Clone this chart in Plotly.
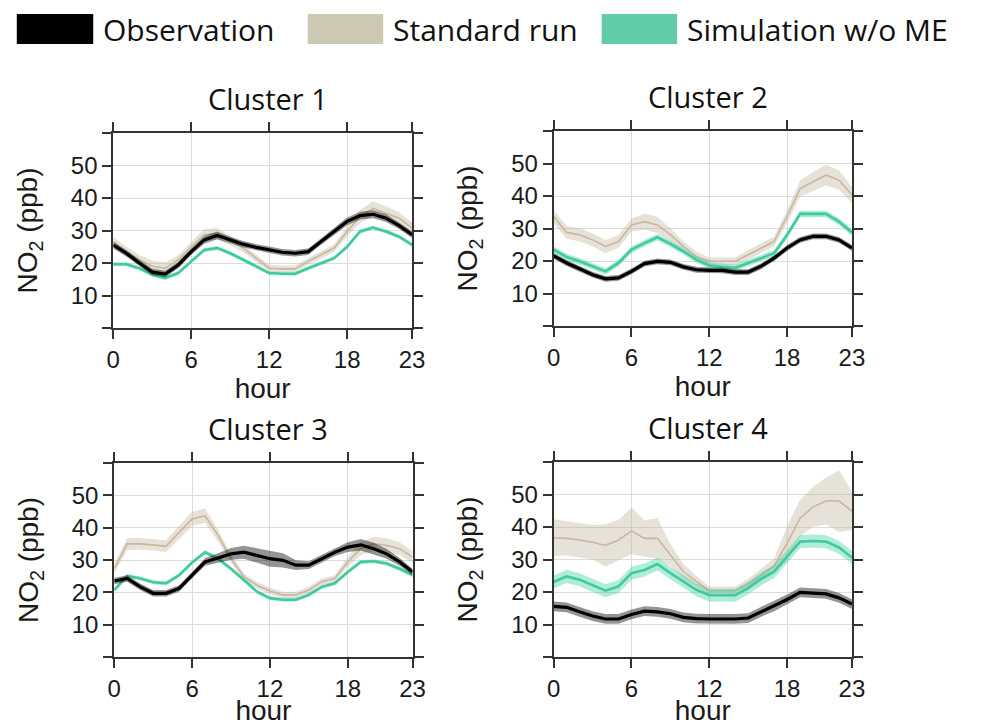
import plotly.graph_objects as go

W, H = 984, 726

hours = list(range(24))
x_tickvals = [0, 6, 12, 18, 23]
y_tickvals = [0, 10, 20, 30, 40, 50, 60]
y_ticktext = ["", "10", "20", "30", "40", "50", ""]

series_names = ["Observation", "Standard run", "Simulation w/o ME"]
cluster_titles = ["Cluster 1", "Cluster 2", "Cluster 3", "Cluster 4"]

# ---- Cluster 1 ----
obs_c1 = [25.5, 23.0, 20.0, 17.2, 16.6, 19.4, 23.5, 27.1, 28.5, 27.1, 25.8, 24.8,
          24.1, 23.3, 23.0, 23.5, 26.6, 29.7, 32.8, 34.6, 35.0, 33.8, 31.5, 28.7]
std_c1 = [26.6, 23.5, 21.0, 19.0, 18.4, 21.0, 25.0, 28.7, 29.0, 27.0, 24.6, 21.5,
          18.4, 18.2, 18.2, 20.5, 22.5, 24.6, 29.7, 34.3, 36.8, 35.3, 33.8, 30.7]
sim_c1 = [19.6, 19.6, 18.4, 16.4, 15.4, 16.9, 20.5, 24.0, 24.6, 23.0, 21.0, 19.0,
          16.9, 16.7, 16.7, 18.4, 20.0, 21.5, 25.0, 29.7, 30.9, 29.7, 28.1, 25.6]
obs_c1_ci = [1.0, 1.0, 1.0, 1.0, 1.0, 1.0, 1.0, 1.2, 1.2, 1.0, 1.0, 1.0,
             1.0, 1.0, 1.0, 1.0, 1.0, 1.0, 1.2, 1.2, 1.2, 1.2, 1.0, 1.0]
std_c1_ci = [1.5, 1.5, 1.5, 1.8, 1.8, 1.5, 1.5, 1.8, 1.8, 1.5, 1.2, 1.2,
             1.0, 1.0, 1.0, 1.0, 1.2, 1.2, 1.5, 2.0, 2.2, 2.2, 1.8, 1.8]
sim_c1_ci = [0.6] * 24

# ---- Cluster 2 ----
obs_c2 = [21.6, 19.4, 17.6, 15.8, 14.5, 14.8, 16.8, 19.2, 19.9, 19.6, 18.2, 17.3,
          17.1, 17.1, 16.6, 16.6, 18.4, 20.9, 24.0, 26.5, 27.6, 27.6, 26.5, 24.0]
std_c2 = [33.7, 28.8, 28.1, 26.5, 24.5, 26.0, 31.1, 32.1, 31.1, 28.1, 24.5, 21.4,
          19.9, 19.9, 19.9, 21.9, 24.0, 26.0, 33.7, 42.3, 44.4, 46.4, 44.9, 40.3]
sim_c2 = [23.5, 21.2, 19.9, 18.4, 16.8, 19.4, 23.5, 25.5, 27.3, 25.3, 23.0, 20.4,
          18.6, 18.2, 17.9, 19.4, 20.9, 22.4, 28.0, 34.5, 34.5, 34.5, 32.1, 28.8]
obs_c2_ci = [0.9] * 24
std_c2_ci = [2.0, 2.0, 2.0, 2.0, 2.0, 2.0, 2.0, 2.5, 2.5, 2.0, 1.5, 1.5,
             1.2, 1.2, 1.2, 1.5, 1.5, 1.5, 2.0, 2.5, 3.0, 3.2, 3.0, 2.5]
sim_c2_ci = [1.0] * 24

# ---- Cluster 3 ----
obs_c3 = [23.5, 24.3, 21.7, 19.7, 19.7, 21.2, 25.3, 29.4, 30.6, 31.9, 32.4, 31.4,
          30.4, 29.9, 28.4, 28.4, 30.4, 32.4, 34.0, 34.7, 33.5, 31.9, 29.4, 26.3]
std_c3 = [27.3, 35.0, 35.0, 34.7, 34.3, 38.6, 42.7, 43.7, 37.6, 30.4, 24.8, 22.2,
          20.4, 19.2, 19.2, 20.7, 23.3, 24.3, 29.4, 33.5, 35.0, 34.5, 33.5, 30.9]
sim_c3 = [20.7, 25.1, 24.3, 23.1, 22.8, 25.3, 29.2, 32.4, 30.4, 27.3, 23.8, 20.2,
          18.2, 17.7, 17.7, 19.2, 21.7, 22.8, 26.3, 29.4, 29.6, 28.9, 27.3, 25.3]
obs_c3_ci = [1.0, 1.0, 1.0, 1.0, 1.0, 1.0, 1.0, 1.2, 1.5, 1.8, 2.0, 2.2,
             2.5, 2.2, 1.5, 1.2, 1.2, 1.2, 1.5, 1.8, 1.8, 1.5, 1.2, 1.0]
std_c3_ci = [1.5, 1.8, 1.8, 1.8, 1.8, 2.0, 2.2, 2.2, 1.8, 1.2, 1.0, 1.0,
             1.0, 1.0, 1.0, 1.0, 1.0, 1.0, 1.5, 2.0, 2.2, 2.2, 2.0, 1.8]
sim_c3_ci = [0.6] * 24

# ---- Cluster 4 ----
obs_c4 = [15.6, 15.3, 13.9, 12.6, 11.7, 11.7, 13.1, 14.1, 13.9, 13.3, 12.2, 11.8,
          11.7, 11.7, 11.7, 12.0, 13.9, 15.6, 17.7, 19.9, 19.7, 19.4, 18.2, 16.3]
std_c4 = [36.7, 36.5, 36.0, 35.3, 34.3, 36.0, 38.8, 36.5, 36.5, 31.4, 26.3, 23.3,
          20.4, 20.4, 20.4, 22.4, 25.3, 28.0, 35.0, 42.7, 46.2, 48.0, 48.0, 44.9]
sim_c4 = [23.1, 24.8, 23.8, 22.0, 20.4, 21.7, 25.8, 26.8, 28.6, 25.8, 23.3, 20.7,
          19.0, 19.0, 19.0, 21.2, 24.1, 26.3, 30.9, 35.5, 35.7, 35.5, 33.7, 30.6]
obs_c4_ci = [1.5] * 24
std_c4_ci = [5.7, 5.3, 5.3, 5.3, 6.5, 6.2, 7.2, 5.6, 6.3, 3.3, 2.3, 1.6,
             1.3, 1.2, 1.3, 1.6, 2.0, 2.3, 5.3, 5.6, 6.1, 7.2, 9.5, 5.9]
sim_c4_ci = [2.0] * 24

clusters = [
    (obs_c1, obs_c1_ci, std_c1, std_c1_ci, sim_c1, sim_c1_ci),
    (obs_c2, obs_c2_ci, std_c2, std_c2_ci, sim_c2, sim_c2_ci),
    (obs_c3, obs_c3_ci, std_c3, std_c3_ci, sim_c3, sim_c3_ci),
    (obs_c4, obs_c4_ci, std_c4, std_c4_ci, sim_c4, sim_c4_ci),
]

# styling
line_colors = {"obs": "#000000", "std": "#c8b6a2", "sim": "#3fcb9c"}
band_colors = {"obs": "rgba(0,0,0,0.42)", "std": "rgba(190,180,150,0.38)",
               "sim": "rgba(60,205,160,0.40)"}
line_widths = {"obs": 3.2, "std": 1.6, "sim": 2.6}
swatch_colors = ["#000000", "#cdc8b2", "#62cba8"]

# panel boxes in pixels: (left, right, top, bottom)
panels = [(108.5, 413.5, 133, 328), (558, 862.5, 131, 326),
          (109.5, 414, 463, 657), (558, 862.5, 462, 657)]


def px_x(v):
    return v / W


def px_y(v):
    return 1 - v / H


fig = go.Figure()

for i, (obs, obs_ci, std, std_ci, sim, sim_ci) in enumerate(clusters):
    xa = "x" if i == 0 else f"x{i + 1}"
    ya = "y" if i == 0 else f"y{i + 1}"
    for key, mean, ci in (("std", std, std_ci), ("sim", sim, sim_ci), ("obs", obs, obs_ci)):
        upper = [m + c for m, c in zip(mean, ci)]
        lower = [m - c for m, c in zip(mean, ci)]
        fig.add_trace(go.Scatter(
            x=hours + hours[::-1], y=upper + lower[::-1], xaxis=xa, yaxis=ya,
            mode="lines", line=dict(width=0), fill="toself",
            fillcolor=band_colors[key], hoverinfo="skip", showlegend=False))
        fig.add_trace(go.Scatter(
            x=hours, y=mean, xaxis=xa, yaxis=ya, mode="lines",
            line=dict(color=line_colors[key], width=line_widths[key]),
            showlegend=False))

axis_font = dict(family="Liberation Sans, Arial, sans-serif", size=24, color="#1a1a1a")
title_font = dict(family="Liberation Sans, Arial, sans-serif", size=28, color="#1a1a1a")
layout = dict(
    width=W, height=H, margin=dict(l=0, r=0, t=0, b=0),
    paper_bgcolor="white", plot_bgcolor="white", showlegend=False,
)

for i, (l, r, t, b) in enumerate(panels):
    sx = "" if i == 0 else str(i + 1)
    layout[f"xaxis{sx}"] = dict(
        domain=[px_x(l), px_x(r)], anchor=f"y{sx}", range=[0, 23],
        tickvals=x_tickvals, ticks="outside", ticklen=9, tickwidth=2,
        tickcolor="#333333", showline=True, linecolor="#333333", linewidth=2,
        mirror="ticks", showgrid=True, gridcolor="#dcdcdc", gridwidth=1,
        zeroline=False, tickfont=axis_font,
        title=dict(text="hour", font=title_font, standoff=5))
    layout[f"yaxis{sx}"] = dict(
        domain=[px_y(b), px_y(t)], anchor=f"x{sx}", range=[0, 60],
        tickvals=y_tickvals, ticktext=y_ticktext, ticks="outside", ticklen=9,
        tickwidth=2, tickcolor="#333333", showline=True, linecolor="#333333",
        linewidth=2, mirror="ticks", showgrid=True, gridcolor="#dcdcdc",
        gridwidth=1, zeroline=False, tickfont=axis_font,
        title=dict(text="NO<sub>2</sub> (ppb)", font=title_font, standoff=25))

fig.update_layout(**layout)

# panel titles
for (l, r, t, b), name in zip(panels, cluster_titles):
    fig.add_annotation(
        text=name, xref="paper", yref="paper", x=px_x((l + r) / 2 + 5),
        y=px_y(t - 35), xanchor="center", yanchor="middle", showarrow=False,
        font=dict(family="Open Sans, sans-serif", size=29, color="#111111"))

# legend row across the top
swatch_x = [(10, 88), (307, 384), (607, 684)]
for (x0, x1), name, col in zip(swatch_x, series_names, swatch_colors):
    fig.add_shape(type="rect", xref="paper", yref="paper",
                  x0=px_x(x0), x1=px_x(x1), y0=px_y(44), y1=px_y(14),
                  fillcolor=col, line=dict(width=0))
    fig.add_annotation(
        text=name, xref="paper", yref="paper", x=px_x(x1 + 8), y=px_y(29),
        xanchor="left", yanchor="middle", showarrow=False,
        font=dict(family="Open Sans, sans-serif", size=30, color="#111111"))

fig.write_html("out.html")
